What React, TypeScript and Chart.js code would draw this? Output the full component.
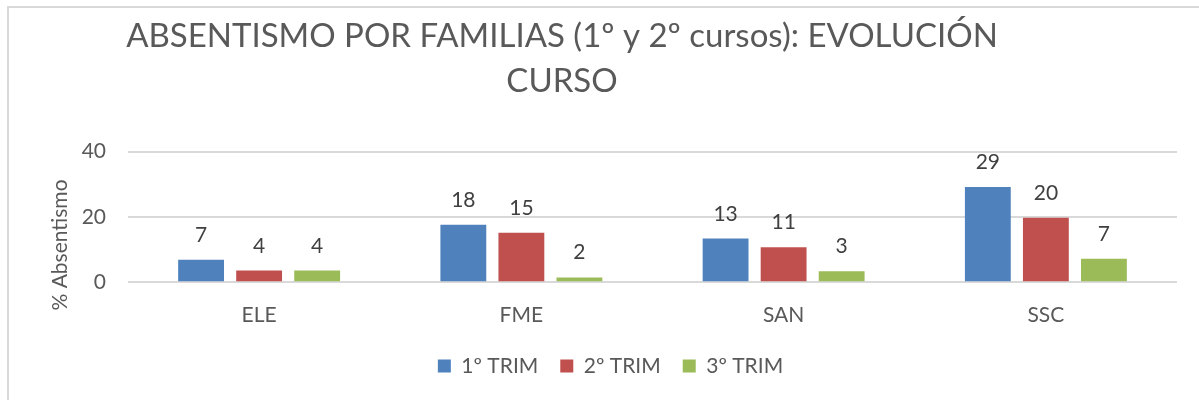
import React, { useEffect, useRef } from "react";
import { Chart, registerables } from "chart.js";

Chart.register(...registerables);

const categories = ["ELE", "FME", "SAN", "SSC"];
const seriesNames = ["1º TRIM", "2º TRIM", "3º TRIM"];
const trim1 = [6.9, 17.6, 13.4, 29.2];
const trim2 = [3.6, 15.2, 10.7, 19.8];
const trim3 = [3.6, 1.5, 3.4, 7.2];
const colors = ["#4F81BD", "#C0504D", "#9BBB59"];
const yTicks = [0, 20, 40];
const titleLines = ["ABSENTISMO POR FAMILIAS (1º y 2º cursos): EVOLUCIÓN", "CURSO"];
const yTitle = "% Absentismo";

const FONT = "Lato, 'Open Sans', sans-serif";

const titlePlugin = {
  id: "customTitle",
  afterDraw(chart: any) {
    const ctx = chart.ctx;
    ctx.save();
    ctx.fillStyle = "#595959";
    ctx.font = `33px ${FONT}`;
    ctx.textAlign = "center";
    ctx.textBaseline = "alphabetic";
    ctx.fillText(titleLines[0], 554, 39);
    ctx.fillText(titleLines[1], 554, 84);
    // y axis title
    ctx.font = `21px ${FONT}`;
    ctx.textBaseline = "middle";
    ctx.translate(52, 237);
    ctx.rotate(-Math.PI / 2);
    ctx.fillText(yTitle, 0, 0);
    ctx.restore();
  },
};

const labelPlugin = {
  id: "barLabels",
  afterDatasetsDraw(chart: any) {
    const ctx = chart.ctx;
    ctx.save();
    ctx.fillStyle = "#404040";
    ctx.font = `21px ${FONT}`;
    ctx.textAlign = "center";
    ctx.textBaseline = "alphabetic";
    chart.data.datasets.forEach((ds: any, i: number) => {
      const meta = chart.getDatasetMeta(i);
      meta.data.forEach((bar: any, j: number) => {
        ctx.fillText(String(Math.round(ds.data[j])), bar.x, bar.y - 18);
      });
    });
    ctx.restore();
  },
};

export default function App() {
  const ref = useRef<HTMLCanvasElement>(null);
  useEffect(() => {
    if (!ref.current) return;
    const series = [trim1, trim2, trim3];
    const chart = new Chart(ref.current, {
      type: "bar",
      data: {
        labels: categories,
        datasets: series.map((d, i) => ({
          label: seriesNames[i],
          data: d,
          backgroundColor: colors[i],
          categoryPercentage: 0.664,
          barPercentage: 0.79,
        })),
      },
      options: {
        animation: false,
        responsive: true,
        maintainAspectRatio: false,
        layout: { padding: { left: 36, right: 14, top: 143.7, bottom: 13.5 } },
        plugins: {
          title: { display: false },
          tooltip: { enabled: false },
          legend: {
            position: "bottom",
            labels: {
              boxWidth: 13,
              boxHeight: 13,
              padding: 22,
              color: "#595959",
              font: { family: FONT, size: 21 },
            },
          },
        },
        scales: {
          x: {
            grid: { display: false },
            border: { display: false },
            ticks: { color: "#595959", font: { family: FONT, size: 21 }, padding: 12 },
            afterFit: (s: any) => {
              s.height = 51.2;
            },
          },
          y: {
            min: 0,
            max: 40,
            afterBuildTicks: (s: any) => {
              s.ticks = yTicks.map((v) => ({ value: v }));
            },
            grid: { color: "#d9d9d9", lineWidth: 2, drawTicks: false },
            border: { display: false },
            ticks: { color: "#595959", font: { family: FONT, size: 21 }, padding: 22 },
            title: { display: false },
            afterFit: (s: any) => {
              s.width = 84;
            },
          },
        },
      },
      plugins: [titlePlugin, labelPlugin],
    });
    return () => chart.destroy();
  }, []);

  return (
    <div style={{ position: "fixed", left: 0, top: 0, width: 1199, height: 400, background: "#fff", overflow: "hidden" }}>
      <div
        style={{
          position: "absolute",
          left: 7,
          top: 6,
          width: 1192,
          height: 394,
          borderLeft: "2px solid #d9d9d9",
          borderTop: "2px solid #d9d9d9",
          boxSizing: "border-box",
        }}
      />
      <div style={{ position: "absolute", left: 8, top: 8, width: 1183, height: 392 }}>
        <canvas ref={ref} />
      </div>
    </div>
  );
}
